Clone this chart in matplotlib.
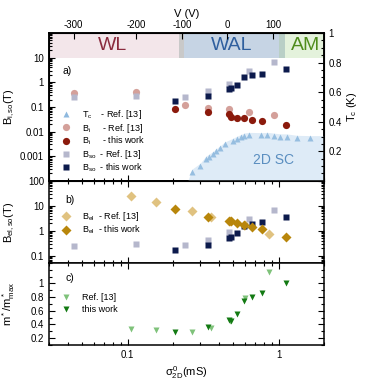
import matplotlib
matplotlib.use("Agg")
import matplotlib.pyplot as plt
from matplotlib.ticker import LogLocator, NullFormatter, MultipleLocator
from matplotlib.lines import Line2D

plt.rcParams["font.family"] = ["Liberation Sans", "DejaVu Sans"]
plt.rcParams["mathtext.fontset"] = "custom"
plt.rcParams["mathtext.rm"] = "Liberation Sans"
plt.rcParams["mathtext.it"] = "Liberation Sans"
plt.rcParams["mathtext.bf"] = "Liberation Sans:bold"

# --- data ---
# this work
sig_tw = [0.207, 0.341, 0.471, 0.482, 0.528, 0.59, 0.665, 0.778, 1.125]
bso_tw = [0.175, 0.28, 0.52, 0.575, 0.81, 1.61, 1.95, 2.26, 3.5]
bi_tw = [0.083, 0.063, 0.0535, 0.040, 0.0367, 0.0347, 0.030, 0.0257, 0.0186]
bel_tw = [7.6, 3.7, 2.5, 2.45, 2.1, 1.8, 1.5, 1.17, 0.58]
m_tw = [0.297, 0.366, 0.467, 0.457, 0.549, 0.744, 0.80, 0.855, 1.01]

# Ref. [13]
sig_ref = [0.0441, 0.114, 0.239, 0.341, 0.468, 0.641, 0.939]
bso_ref = [0.248, 0.288, 0.263, 0.436, 0.885, 2.95, 6.56]
bi_ref = [0.36, 0.42, 0.118, 0.089, 0.079, 0.062, 0.046]

sig_ref2 = [0.105, 0.155, 0.266, 0.354, 0.476, 0.60, 0.87]
bel_ref = [24, 14.5, 6.0, 3.7, 2.4, 1.8, 0.76]
m_ref = [0.334, 0.324, 0.287, 0.344, 0.45, 0.79, 1.17]

sig_tc = [0.268, 0.303, 0.329, 0.347, 0.367, 0.387, 0.41, 0.441, 0.501, 0.53,
          0.56, 0.59, 0.633, 0.767, 0.845, 0.931, 1.02, 1.13, 1.32, 1.63]
tc_ref = [0.063, 0.102, 0.148, 0.164, 0.18, 0.2, 0.219, 0.246, 0.271, 0.284,
          0.294, 0.305, 0.31, 0.308, 0.31, 0.305, 0.30, 0.30, 0.29, 0.288]

# top axis: gate voltage vs sigma
v_ticks = [-300, -200, -100, 0, 100]
v_sigma = [0.0437, 0.113, 0.229, 0.457, 0.926]

# transport regimes (sigma limits)
regimes = [
    (0.029, 0.219, "#f3e6ea", "WL", "#8a2b3e"),
    (0.219, 0.236, "#c9c9c9", "", None),
    (0.236, 1.0, "#c6d4e4", "WAL", "#2f5f9e"),
    (1.0, 1.096, "#b9cfc6", "", None),
    (1.096, 2.1, "#e4f2dc", "AM", "#4f8c1c"),
]

C_TC = "#8fb9de"
C_BI_REF = "#d4a09a"
C_BI_TW = "#8b1a0c"
C_BSO_REF = "#b5b7cc"
C_BSO_TW = "#0c1a4c"
C_BEL_REF = "#e0c280"
C_BEL_TW = "#b8860b"
C_M_REF = "#7fc27a"
C_M_TW = "#137a13"

XLIM = (0.03, 2.0)
TICK_FS = 7


def style_log_x(ax, labels=False):
    ax.set_xscale("log")
    ax.set_xlim(*XLIM)
    ax.set_xticks([0.1, 1])
    ax.xaxis.set_minor_locator(LogLocator(base=10, subs=range(2, 10)))
    ax.xaxis.set_minor_formatter(NullFormatter())
    if labels:
        ax.set_xticklabels(["0.1", "1"])
    else:
        ax.set_xticklabels([])
    ax.tick_params(which="both", direction="in", top=True, right=True,
                   labelsize=TICK_FS, width=0.8)
    ax.tick_params(which="major", length=4)
    ax.tick_params(which="minor", length=2)
    for s in ax.spines.values():
        s.set_linewidth(1.1)


LEG_KW = dict(loc="upper left", frameon=False, fontsize=6.5, handlelength=1.2,
              handletextpad=1.2, borderpad=0.2)

fig = plt.figure(figsize=(3.74, 3.84), dpi=100)
ax_a = fig.add_axes([0.131, 0.529, 0.735, 0.385])
ax_b = fig.add_axes([0.131, 0.315, 0.735, 0.214])
ax_c = fig.add_axes([0.131, 0.1016, 0.735, 0.2135])

# --- panel a ---
style_log_x(ax_a)
ax_a.tick_params(top=False, right=False)
ax_a.set_yscale("log")
ax_a.set_ylim(1e-4, 100)
ax_a.set_yticks([1e-3, 1e-2, 0.1, 1, 10])
ax_a.set_yticklabels(["0.001", "0.01", "0.1", "1", "10"])
ax_a.yaxis.set_minor_locator(LogLocator(base=10, subs=range(2, 10)))
ax_a.yaxis.set_minor_formatter(NullFormatter())

for x0, x1, col, txt, tcol in regimes:
    ax_a.fill_between([x0, x1], 10, 100, color=col, lw=0, zorder=0)
    if txt:
        xc = (x0 * x1) ** 0.5
        ax_a.text(xc, 31, txt, color=tcol, fontsize=14, ha="center", va="center")

ax_a.plot(sig_ref, bi_ref, "o", color=C_BI_REF, ms=5.2, mec="none", zorder=3)
ax_a.plot(sig_tw, bi_tw, "o", color=C_BI_TW, ms=5.2, mec="none", zorder=4)
ax_a.plot(sig_ref, bso_ref, "s", color=C_BSO_REF, ms=4.8, mec="none", zorder=3)
ax_a.plot(sig_tw, bso_tw, "s", color=C_BSO_TW, ms=4.8, mec="none", zorder=4)
ax_a.text(0.05, 0.743, "a)", transform=ax_a.transAxes, fontsize=7.5, va="center")
ax_a.set_ylabel("B$_{i,so}$(T)", fontsize=8)
ax_a.yaxis.set_label_coords(-0.115, 0.5)

# right axis: Tc
ax_tc = ax_a.twinx()
ax_tc.set_ylim(0, 1)
ax_tc.set_yticks([0.2, 0.4, 0.6, 0.8, 1.0])
ax_tc.set_yticklabels(["0.2", "0.4", "0.6", "0.8", "1"])
ax_tc.yaxis.set_minor_locator(MultipleLocator(0.05))
ax_tc.tick_params(which="both", direction="in", labelsize=TICK_FS, width=0.8)
ax_tc.tick_params(which="major", length=4)
ax_tc.tick_params(which="minor", length=2)
fill_x = [0.25] + sig_tc + [XLIM[1]]
fill_y = [0] + [t + 0.018 for t in tc_ref] + [tc_ref[-1] + 0.018]
ax_tc.fill_between(fill_x, 0, fill_y, color="#deebf7", lw=0, zorder=0)
ax_tc.plot(sig_tc, tc_ref, "^", color=C_TC, ms=4.8, mec="none", alpha=0.9, zorder=3)
ax_tc.text(0.92, 0.14, "2D SC", color="#5a8ec0", fontsize=10, ha="center", va="center")
ax_tc.set_ylabel("T$_c$ (K)", fontsize=8)
ax_tc.yaxis.set_label_coords(1.075, 0.5)
ax_tc.set_xlim(*XLIM)
for s in ax_tc.spines.values():
    s.set_linewidth(1.1)

# top axis: V
ax_v = ax_a.twiny()
ax_v.set_xscale("log")
ax_v.set_xlim(*XLIM)
ax_v.set_xticks(v_sigma)
ax_v.set_xticklabels([str(v) for v in v_ticks])
ax_v.xaxis.set_minor_locator(matplotlib.ticker.NullLocator())
ax_v.tick_params(direction="in", labelsize=TICK_FS, length=4, width=0.8, pad=2)
ax_v.set_xlabel("V (V)", fontsize=8, labelpad=2)

handles_a = [
    Line2D([], [], ls="none", marker="^", color=C_TC, ms=4.8, mec="none"),
    Line2D([], [], ls="none", marker="o", color=C_BI_REF, ms=5.2, mec="none"),
    Line2D([], [], ls="none", marker="o", color=C_BI_TW, ms=5.2, mec="none"),
    Line2D([], [], ls="none", marker="s", color=C_BSO_REF, ms=4.8, mec="none"),
    Line2D([], [], ls="none", marker="s", color=C_BSO_TW, ms=4.8, mec="none"),
]
labels_a = ["T$_c$    - Ref. [13]", "B$_i$     - Ref. [13]", "B$_i$     - this work",
            "B$_{so}$  - Ref. [13]", "B$_{so}$  - this work"]
ax_tc.legend(handles_a, labels_a, bbox_to_anchor=(0.02, 0.535),
             labelspacing=0.05, **LEG_KW)

# --- panel b ---
style_log_x(ax_b)
ax_b.set_yscale("log")
ax_b.set_ylim(0.052, 100)
ax_b.set_yticks([0.1, 1, 10, 100])
ax_b.set_yticklabels(["0.1", "1", "10", "100"])
ax_b.yaxis.set_minor_locator(LogLocator(base=10, subs=range(2, 10)))
ax_b.yaxis.set_minor_formatter(NullFormatter())
ax_b.plot(sig_ref, bso_ref, "s", color=C_BSO_REF, ms=4.8, mec="none", zorder=3)
ax_b.plot(sig_tw, bso_tw, "s", color=C_BSO_TW, ms=4.8, mec="none", zorder=4)
ax_b.plot(sig_ref2, bel_ref, "D", color=C_BEL_REF, ms=4.6, mec="none", zorder=3)
ax_b.plot(sig_tw, bel_tw, "D", color=C_BEL_TW, ms=4.6, mec="none", zorder=4)
ax_b.text(0.06, 0.77, "b)", transform=ax_b.transAxes, fontsize=7.5, va="center")
ax_b.set_ylabel("B$_{el,so}$(T)", fontsize=8)
ax_b.yaxis.set_label_coords(-0.115, 0.5)
handles_b = [
    Line2D([], [], ls="none", marker="D", color=C_BEL_REF, ms=4.6, mec="none"),
    Line2D([], [], ls="none", marker="D", color=C_BEL_TW, ms=4.6, mec="none"),
]
ax_b.legend(handles_b, ["B$_{el}$  - Ref. [13]", "B$_{el}$  - this work"],
            bbox_to_anchor=(0.02, 0.725), labelspacing=0.1, **LEG_KW)

# --- panel c ---
style_log_x(ax_c, labels=True)
ax_c.set_ylim(0.1, 1.3)
ax_c.set_yticks([0.2, 0.4, 0.6, 0.8, 1.0])
ax_c.set_yticklabels(["0.2", "0.4", "0.6", "0.8", "1"])
ax_c.yaxis.set_minor_locator(MultipleLocator(0.1))
ax_c.plot(sig_ref2, m_ref, "v", color=C_M_REF, ms=5, mec="none", zorder=3)
ax_c.plot(sig_tw, m_tw, "v", color=C_M_TW, ms=5, mec="none", zorder=4)
ax_c.text(0.06, 0.817, "c)", transform=ax_c.transAxes, fontsize=7.5, va="center")
ax_c.set_ylabel("m$^*$/m$^*_{max}$", fontsize=8)
ax_c.yaxis.set_label_coords(-0.115, 0.5)
ax_c.set_xlabel(r"$\sigma^0_{2D}$(mS)", fontsize=8, labelpad=3)
handles_c = [
    Line2D([], [], ls="none", marker="v", color=C_M_REF, ms=5, mec="none"),
    Line2D([], [], ls="none", marker="v", color=C_M_TW, ms=5, mec="none"),
]
ax_c.legend(handles_c, ["Ref. [13]", "this work"], bbox_to_anchor=(0.02, 0.71),
            labelspacing=0.3, **LEG_KW)

fig.savefig("out.png", dpi=100)
plt.close(fig)
